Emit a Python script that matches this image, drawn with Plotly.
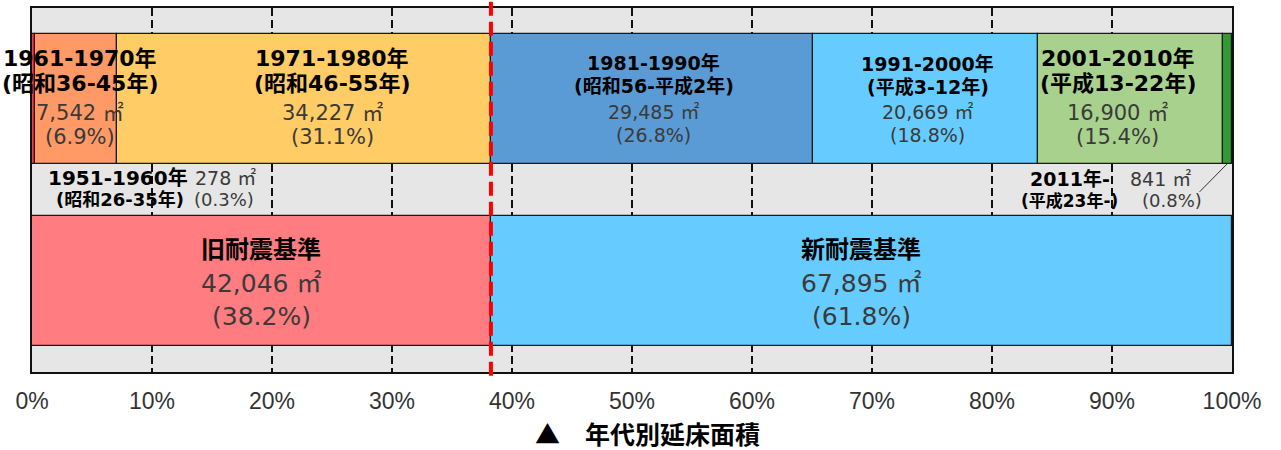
import plotly.graph_objects as go

# Floor area by construction decade (㎡)
periods = ["1951-1960年", "1961-1970年", "1971-1980年", "1981-1990年",
           "1991-2000年", "2001-2010年", "2011年-"]
eras = ["(昭和26-35年)", "(昭和36-45年)", "(昭和46-55年)", "(昭和56-平成2年)",
        "(平成3-12年)", "(平成13-22年)", "(平成23年-)"]
areas = [278, 7542, 34227, 29485, 20669, 16900, 841]
shares = ["0.3%", "6.9%", "31.1%", "26.8%", "18.8%", "15.4%", "0.8%"]

# Old / new seismic design standard totals
standards = ["旧耐震基準", "新耐震基準"]
std_areas = [42046, 67895]
std_shares = ["38.2%", "61.8%"]

tick_vals = [0, 10, 20, 30, 40, 50, 60, 70, 80, 90, 100]
tick_text = ["0%", "10%", "20%", "30%", "40%", "50%", "60%", "70%", "80%", "90%", "100%"]

title_text = "▲　年代別延床面積"

period_colors = ["#FF3B3B", "#FF9966", "#FFCC66", "#5B9BD5", "#66CCFF", "#A9D18E", "#339933"]
std_colors = ["#FF7C80", "#66CCFF"]

BOLD_FONT = "DejaVu Sans, Noto Sans CJK JP"
REG_FONT = "DejaVu Sans, Noto Sans CJK JP"
TXT_DARK = "#000000"
TXT_GREY = "#3a3a3a"

total = sum(std_areas)


def to_pct(values):
    return [v / total * 100 for v in values]


def cumulative_starts(widths):
    starts, acc = [], 0.0
    for w in widths:
        starts.append(acc)
        acc += w
    return starts


p_w = to_pct(areas)
p_s = cumulative_starts(p_w)
s_w = to_pct(std_areas)
s_s = cumulative_starts(s_w)

BAR_W = 0.71

fig = go.Figure()
fig.add_trace(go.Bar(
    y=[0] * len(areas), x=p_w, base=p_s, orientation="h", width=BAR_W,
    marker=dict(color=period_colors, line=dict(color="#1a1a1a", width=1.2)),
    hoverinfo="skip", showlegend=False,
))
fig.add_trace(go.Bar(
    y=[1] * len(std_areas), x=s_w, base=s_s, orientation="h", width=BAR_W,
    marker=dict(color=std_colors, line=dict(color="#1a1a1a", width=1.2)),
    hoverinfo="skip", showlegend=False,
))


def add_text(x, y, text, size, bold=False, color=TXT_DARK, xanchor="center",
             xshift=0, yshift=0, xref="x", yref="y"):
    fig.add_annotation(
        x=x, y=y, xref=xref, yref=yref, text=text, showarrow=False,
        xanchor=xanchor, yanchor="middle", xshift=xshift, yshift=yshift,
        font=dict(family=BOLD_FONT if bold else REG_FONT, size=size, color=color,
                  weight="bold" if bold else "normal"),
    )


# Labels inside the decade segments: (index, x shift, line offsets, font sizes)
inner_labels = [
    (1, 4, [40.5, 15.5, -13.5, -37.5], [22, 22, 21, 21]),
    (2, 28, [40.5, 15.5, -13.5, -37.5], [22, 22, 21, 21]),
    (3, 2, [36.5, 13.5, -12.5, -35.5], [19, 19, 19, 19]),
    (4, 2, [35.5, 12.5, -12.5, -35.5], [19, 19, 19, 19]),
    (5, -13, [40.5, 15.5, -13.5, -37.5], [22, 22, 21, 21]),
]
for i, dx, offs, sizes in inner_labels:
    cx = p_s[i] + p_w[i] / 2
    add_text(cx, 0, periods[i], sizes[0], bold=True, xshift=dx, yshift=offs[0])
    add_text(cx, 0, eras[i], sizes[1], bold=True, xshift=dx, yshift=offs[1])
    add_text(cx, 0, f"{areas[i]:,} ㎡", sizes[2], color=TXT_GREY, xshift=dx, yshift=offs[2])
    add_text(cx, 0, f"({shares[i]})", sizes[3], color=TXT_GREY, xshift=dx, yshift=offs[3])

# Labels for the two thin segments, placed in the band between the rows
add_text(13.2, 0.5, periods[0], 20, bold=True, xanchor="right", yshift=12.5)
add_text(13.45, 0.5, f"{areas[0]:,} ㎡", 19, color=TXT_GREY, xanchor="left", yshift=12.5)
add_text(12.8, 0.5, eras[0], 18, bold=True, xanchor="right", yshift=-9.5)
add_text(13.35, 0.5, f"({shares[0]})", 18, color=TXT_GREY, xanchor="left", yshift=-9.5)

add_text(90.0, 0.5, periods[6], 19, bold=True, xanchor="right", yshift=11.5)
add_text(91.3, 0.5, f"{areas[6]:,} ㎡", 19, color=TXT_GREY, xanchor="left", yshift=11.5)
add_text(90.7, 0.5, eras[6], 17, bold=True, xanchor="right", yshift=-10.5)
add_text(92.3, 0.5, f"({shares[6]})", 18, color=TXT_GREY, xanchor="left", yshift=-10.5)

# Leader line from the 2011- label to its segment
fig.add_shape(type="line", xref="x", yref="y",
              x0=97.3, y0=0.51, x1=p_s[6] + p_w[6] / 2, y1=BAR_W / 2,
              line=dict(color="#333333", width=1))

# Seismic standard labels
for i in range(2):
    cx = s_s[i] + s_w[i] / 2
    add_text(cx, 1, standards[i], 24, bold=True, yshift=31)
    add_text(cx, 1, f"{std_areas[i]:,} ㎡", 25, color=TXT_GREY, yshift=-2)
    add_text(cx, 1, f"({std_shares[i]})", 25, color=TXT_GREY, yshift=-35)

# Red dashed divider between old and new standard
fig.add_shape(type="line", xref="x", yref="paper",
              x0=s_w[0], x1=s_w[0], y0=-0.01, y1=1.02,
              line=dict(color="#FF0000", width=4, dash="14px,6px"), layer="above")

# Title below the axis
fig.add_annotation(x=0.5125, y=-0.168, xref="paper", yref="paper", text=title_text,
                   showarrow=False, xanchor="center", yanchor="middle",
                   font=dict(family="Noto Sans CJK JP", size=25, color="#000", weight="bold"))

fig.update_layout(
    width=1281, height=450,
    margin=dict(l=32, r=49, t=6, b=78),
    paper_bgcolor="white", plot_bgcolor="#E6E6E6",
    barmode="overlay", bargap=0,
    xaxis=dict(range=[0, 100], tickvals=tick_vals, ticktext=tick_text,
               showgrid=True, gridcolor="#111111", gridwidth=1.5, griddash="8px,4px",
               zeroline=False, showline=True, linecolor="#111111", linewidth=1.5,
               mirror=True, ticks="", ticklabelstandoff=8,
               tickfont=dict(family="Liberation Sans", size=23, color="#333333")),
    yaxis=dict(range=[1.5, -0.5], showticklabels=False, showgrid=False,
               zeroline=False, showline=True, linecolor="#111111", linewidth=1.5,
               mirror=True, ticks=""),
)

fig.write_html("out.html")
